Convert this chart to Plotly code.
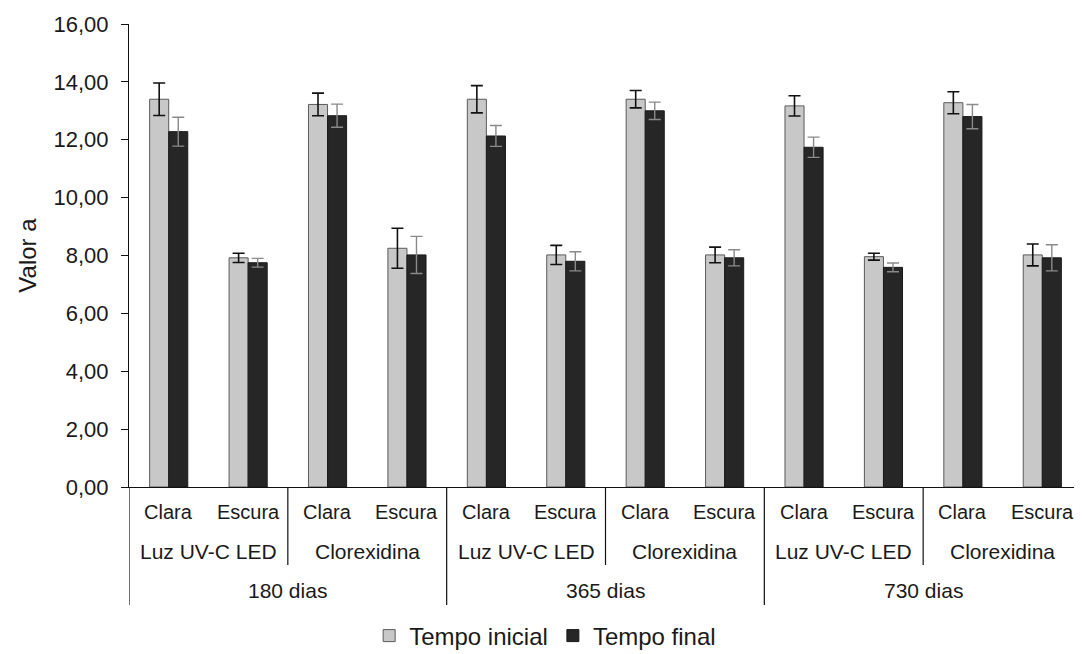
import plotly.graph_objects as go

# ---- data ----
periodos = ["180 dias", "365 dias", "730 dias"]
tratamentos = ["Luz UV-C LED", "Clorexidina"]
tons = ["Clara", "Escura"]

tempo_inicial = [13.40, 7.92, 13.22, 8.25, 13.40, 8.02, 13.40, 8.02, 13.17, 7.96, 13.28, 8.02]
erro_inicial = [0.56, 0.16, 0.39, 0.69, 0.47, 0.33, 0.30, 0.27, 0.35, 0.12, 0.38, 0.38]
tempo_final = [12.28, 7.75, 12.83, 8.02, 12.13, 7.80, 13.00, 7.92, 11.74, 7.59, 12.80, 7.92]
erro_final = [0.50, 0.15, 0.40, 0.64, 0.36, 0.33, 0.30, 0.28, 0.35, 0.15, 0.42, 0.45]

y_ticks = [0, 2, 4, 6, 8, 10, 12, 14, 16]

# ---- derived category positions ----
labels_ton = [t for p in periodos for tr in tratamentos for t in tons]
x = list(range(len(labels_ton)))

FONT = "Liberation Sans, Arial, sans-serif"
TXT = "#1a1a1a"

fig = go.Figure()
fig.add_trace(go.Bar(
    x=x, y=tempo_inicial, name="Tempo inicial",
    marker=dict(color="#c8c8c8", line=dict(color="#5a5a5a", width=1)),
    error_y=dict(type="data", array=erro_inicial, visible=True,
                 color="#111111", thickness=1.6, width=6),
))
fig.add_trace(go.Bar(
    x=x, y=tempo_final, name="Tempo final",
    marker=dict(color="#262626", line=dict(color="#1a1a1a", width=1)),
    error_y=dict(type="data", array=erro_final, visible=True,
                 color="#8a8a8a", thickness=1.4, width=6),
))

# plot geometry (paper fractions)
plot_h = 463.0
def py(px_below):
    return -px_below / plot_h

annotations = []
shapes = []
n_ton = len(tons)
n_tr = len(tratamentos)

# level 1: tone labels
for i, lab in enumerate(labels_ton):
    annotations.append(dict(x=i, y=py(25), xref="x", yref="paper", text=lab,
                            showarrow=False, xanchor="center", yanchor="middle",
                            font=dict(family=FONT, size=20, color=TXT)))
# level 2: treatment labels
k = 0
for p in periodos:
    for tr in tratamentos:
        cx = k * n_ton + (n_ton - 1) / 2
        annotations.append(dict(x=cx, y=py(64), xref="x", yref="paper", text=tr,
                                showarrow=False, xanchor="center", yanchor="middle",
                                font=dict(family=FONT, size=21, color=TXT)))
        k += 1
# level 3: period labels
per_size = n_ton * n_tr
for j, p in enumerate(periodos):
    cx = j * per_size + (per_size - 1) / 2
    annotations.append(dict(x=cx, y=py(103), xref="x", yref="paper", text=p,
                            showarrow=False, xanchor="center", yanchor="middle",
                            font=dict(family=FONT, size=21, color=TXT)))

# separators
for j in range(len(periodos) + 1):
    xs = j * per_size - 0.5
    shapes.append(dict(type="line", xref="x", yref="paper", x0=xs, x1=xs,
                       y0=0, y1=py(118), line=dict(color="#111111", width=1.2)))
for j in range(len(periodos)):
    xs = j * per_size + n_ton - 0.5
    shapes.append(dict(type="line", xref="x", yref="paper", x0=xs, x1=xs,
                       y0=0, y1=py(78), line=dict(color="#111111", width=1.2)))

# page body has an 8px margin, so the figure is 8px smaller than the window
fig.update_layout(
    width=1074, height=646,
    margin=dict(l=121, r=0, t=16, b=167, autoexpand=False),
    paper_bgcolor="white", plot_bgcolor="white",
    barmode="group", bargap=0.52, bargroupgap=0,
    separators=",.",
    font=dict(family=FONT, color=TXT),
    showlegend=True,
    legend=dict(orientation="h", x=0.252, xanchor="left", y=py(149), yanchor="middle",
                font=dict(family=FONT, size=24, color=TXT),
                itemwidth=30, tracegroupgap=0, bgcolor="rgba(0,0,0,0)"),
    annotations=annotations, shapes=shapes,
)
fig.update_xaxes(range=[-0.5, len(x) - 0.5], showticklabels=False, ticks="",
                 showgrid=False, zeroline=False, showline=True,
                 linecolor="#111111", linewidth=1.2, fixedrange=True)
fig.update_yaxes(range=[0, 16], tickvals=y_ticks, tickformat=".2f",
                 ticks="outside", ticklen=7, tickcolor="#111111", tickwidth=1.2,
                 showline=True, linecolor="#111111", linewidth=1.2,
                 showgrid=False, zeroline=False, ticklabelstandoff=8,
                 automargin=False,
                 tickfont=dict(family=FONT, size=22, color=TXT),
                 title=dict(text="Valor a", standoff=10,
                            font=dict(family=FONT, size=24, color=TXT)))

fig.write_html("out.html")
